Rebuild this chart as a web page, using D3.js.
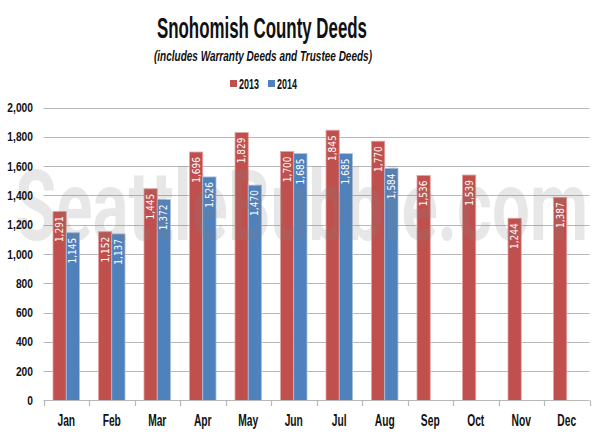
<!DOCTYPE html>
<html><head><meta charset="utf-8">
<script src="https://cdn.jsdelivr.net/npm/d3@7"></script>
<style>body{margin:0;background:#fff}svg{display:block}</style>
</head><body><svg id="c" width="600" height="436"></svg>
<script>
const months = ["Jan","Feb","Mar","Apr","May","Jun","Jul","Aug","Sep","Oct","Nov","Dec"];
const seriesNames = ["2013","2014"];
const values2013 = [1291,1152,1445,1696,1829,1700,1845,1770,1536,1539,1244,1387];
const values2014 = [1145,1137,1372,1526,1470,1685,1685,1584,null,null,null,null];
const yTicks = [0,200,400,600,800,1000,1200,1400,1600,1800,2000];
const colors = {"2013":"#C0504D","2014":"#4F81BD"};

const svg = d3.select("#c");
const sans = "'Liberation Sans',Arial,sans-serif";
const x0 = d3.scaleBand().domain(months).range([43.5,589.5]).paddingInner(0);
const x1 = d3.scaleBand().domain(seriesNames).range([0,x0.bandwidth()]).paddingOuter(0.717).paddingInner(0);
const y = d3.scaleLinear().domain([0,2000]).range([400.5,107.5]);

// gridlines
svg.append("g").selectAll("line").data(yTicks.filter(d=>d>0)).join("line")
  .attr("x1",43.5).attr("x2",589.5).attr("y1",d=>Math.round(y(d))+0.5).attr("y2",d=>Math.round(y(d))+0.5)
  .attr("stroke","#b8b8b8").attr("stroke-width",1.2);

// bars
const data = [];
months.forEach((m,i)=>{
  data.push({m, s:"2013", v:values2013[i]});
  if(values2014[i]!=null) data.push({m, s:"2014", v:values2014[i]});
});
svg.append("g").selectAll("rect").data(data).join("rect")
  .attr("x",d=>x0(d.m)+x1(d.s)).attr("width",x1.bandwidth())
  .attr("y",d=>y(d.v)).attr("height",d=>y(0)-y(d.v))
  .attr("fill",d=>colors[d.s]).attr("stroke",d=>d.s==="2013"?"#e3a3a1":"#a7c0de").attr("stroke-width",0.8);

// watermark
svg.append("text").attr("x",15).attr("y",240).text("SeattleBubble.com")
  .attr("font-family","Roboto,'DejaVu Sans',sans-serif").attr("font-weight","bold")
  .attr("font-size",98).attr("textLength",573).attr("lengthAdjust","spacingAndGlyphs")
  .attr("fill","#808080").attr("fill-opacity",0.19);

// data labels
svg.append("g").selectAll("text").data(data).join("text")
  .attr("transform",d=>`translate(${x0(d.m)+x1(d.s)+x1.bandwidth()/2},${y(d.v)+5}) rotate(-90)`)
  .attr("text-anchor","end").attr("dominant-baseline","central")
  .attr("font-family","'DejaVu Sans Condensed','DejaVu Sans',sans-serif").attr("font-size",10)
  .attr("fill","#fff").text(d=>d3.format(",")(d.v));

// x axis line and ticks
svg.append("line").attr("x1",43.5).attr("x2",589.5).attr("y1",400.5).attr("y2",400.5)
  .attr("stroke","#b8b8b8").attr("stroke-width",1.2);
const bounds = months.map(m=>x0(m)).concat([x0.range()[1]]);
svg.append("g").selectAll("line").data(bounds).join("line")
  .attr("x1",d=>Math.round(d)+0.5).attr("x2",d=>Math.round(d)+0.5).attr("y1",400.5).attr("y2",406)
  .attr("stroke","#b8b8b8").attr("stroke-width",1.2);

// x labels
svg.append("g").selectAll("text").data(months).join("text")
  .attr("transform",d=>`translate(${x0(d)+x0.bandwidth()/2},426) scale(0.64,1)`).attr("text-anchor","middle")
  .attr("font-family",sans).attr("font-weight","bold").attr("font-size",16).attr("fill","#111")
  .text(d=>d);

// y labels
svg.append("g").selectAll("text").data(yTicks).join("text")
  .attr("transform",d=>`translate(33,${y(d)+4.5}) scale(0.82,1)`).attr("text-anchor","end")
  .attr("font-family",sans).attr("font-weight","bold").attr("font-size",12.5).attr("fill","#111")
  .text(d=>d3.format(",")(d));

// title
svg.append("text").attr("x",157).attr("y",38).text("Snohomish County Deeds")
  .attr("font-family",sans).attr("font-weight","bold").attr("font-size",29).attr("fill","#111")
  .attr("textLength",210).attr("lengthAdjust","spacingAndGlyphs");
svg.append("text").attr("x",154).attr("y",61).text("(includes Warranty Deeds and Trustee Deeds)")
  .attr("font-family",sans).attr("font-style","italic").attr("font-weight","bold").attr("font-size",15).attr("fill","#111")
  .attr("textLength",218).attr("lengthAdjust","spacingAndGlyphs");

// legend
const legX = {"2013":230,"2014":268};
const lg = svg.append("g").selectAll("g").data(seriesNames).join("g");
lg.append("rect").attr("x",d=>legX[d]).attr("y",80).attr("width",7).attr("height",7).attr("fill",d=>colors[d]);
lg.append("text").attr("x",d=>legX[d]+9).attr("y",88.5).text(d=>d)
  .attr("font-family",sans).attr("font-weight","bold").attr("font-size",14).attr("fill","#111")
  .attr("textLength",20).attr("lengthAdjust","spacingAndGlyphs");
</script></body></html>
